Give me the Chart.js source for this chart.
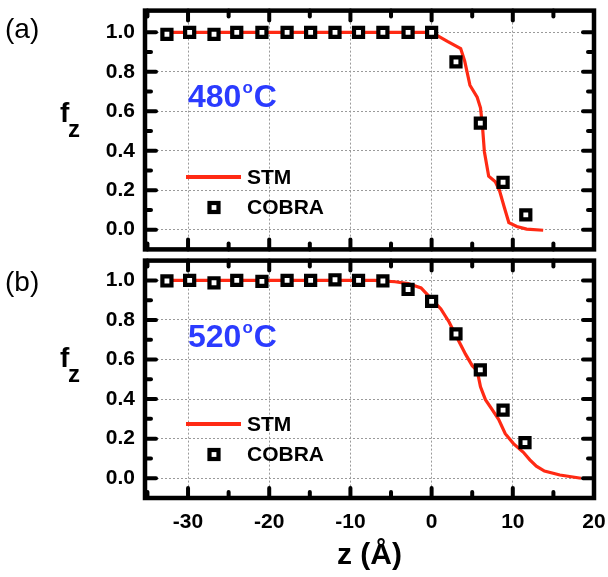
<!DOCTYPE html>
<html>
<head>
<meta charset="utf-8">
<script src="https://cdn.jsdelivr.net/npm/chart.js@4.4.0/dist/chart.umd.min.js"></script>
<style>
  html, body { margin: 0; padding: 0; background: #fff; }
  #wrap { position: relative; width: 608px; height: 577px; }
  #ca { position: absolute; left: 0; top: 0; }
  #cb { position: absolute; left: 0; top: 250px; }
</style>
</head>
<body>
<div id="wrap">
  <canvas id="ca" width="608" height="260"></canvas>
  <canvas id="cb" width="608" height="327"></canvas>
</div>
<script>
// Axis ticks
const xTicks = [-30, -20, -10, 0, 10, 20];
const xMinor = [-35, -25, -15, -5, 5, 15];
const yTicks = [0, 0.2, 0.4, 0.6, 0.8, 1.0];
const yMinor = [0.1, 0.3, 0.5, 0.7, 0.9];

// Panel (a) 480 C
const cobraZa = [-32.6, -29.8, -26.8, -24.0, -20.9, -17.8, -14.9, -11.9, -9.0, -6.0, -2.9, 0, 3.0, 6.0, 8.8, 11.6];
const cobraFa = [0.99, 1.0, 0.99, 1.0, 1.0, 1.0, 1.0, 1.0, 1.0, 1.0, 1.0, 1.0, 0.85, 0.54, 0.24, 0.075];
const stmZa = [-32.6, 0, 1.95, 3.58, 4.07, 4.72, 5.61, 6.02, 6.26, 6.5, 7.03, 7.85, 8.37, 8.94, 9.51, 10.49, 11.7, 13.74];
const stmFa = [1.0, 1.0, 0.954, 0.918, 0.855, 0.732, 0.671, 0.617, 0.526, 0.395, 0.271, 0.243, 0.197, 0.115, 0.036, 0.016, 0.003, -0.003];

// Panel (b) 520 C
const cobraZb = [-32.6, -29.8, -26.8, -24.0, -20.9, -17.8, -14.9, -11.9, -9.0, -6.0, -2.9, 0, 3.0, 6.0, 8.8, 11.5];
const cobraFb = [0.997, 1.0, 0.988, 1.0, 0.995, 1.0, 1.0, 1.003, 1.0, 0.997, 0.954, 0.894, 0.729, 0.548, 0.344, 0.18];
const stmZb = [-32.6, -7.0, -4.5, -2.9, -1.3, 0, 1.14, 2.15, 2.85, 4.19, 5.0, 5.61, 6.02, 6.63, 7.44, 8.25, 9.07, 10.08, 11.3, 12.1, 12.9, 13.9, 15.8, 18.4];
const stmFb = [1.0, 1.0, 0.993, 0.984, 0.962, 0.905, 0.856, 0.79, 0.733, 0.626, 0.569, 0.544, 0.462, 0.397, 0.348, 0.298, 0.225, 0.175, 0.131, 0.093, 0.061, 0.036, 0.016, 0.0];

const fontFamily = "'Liberation Sans', Arial, sans-serif";
const red = '#ff2a14';
const blue = '#2b3bff';

function toPoints(xs, ys) {
  return xs.map((v, i) => ({ x: v, y: ys[i] }));
}

// Frame, inward ticks, legend and labels
const framePlugin = {
  id: 'frame',
  afterDraw(chart, args, opts) {
    const { ctx, chartArea: a, scales: { x, y } } = chart;
    ctx.save();
    ctx.strokeStyle = '#000';
    ctx.lineWidth = 4;
    ctx.lineCap = 'round';
    const tick = (x1, y1, x2, y2) => {
      ctx.beginPath(); ctx.moveTo(x1, y1); ctx.lineTo(x2, y2); ctx.stroke();
    };
    xTicks.forEach(v => {
      const px = x.getPixelForValue(v);
      if (px <= a.left + 2 || px >= a.right - 2) return;
      tick(px, a.bottom, px, a.bottom - 10);
      tick(px, a.top, px, a.top + 10);
    });
    xMinor.forEach(v => {
      const px = x.getPixelForValue(v);
      if (px <= a.left + 2 || px >= a.right - 2) return;
      tick(px, a.bottom, px, a.bottom - 6);
      tick(px, a.top, px, a.top + 6);
    });
    yTicks.forEach(v => {
      const py = y.getPixelForValue(v);
      tick(a.left, py, a.left + 11, py);
      tick(a.right, py, a.right - 11, py);
    });
    yMinor.forEach(v => {
      const py = y.getPixelForValue(v);
      tick(a.left, py, a.left + 6, py);
      tick(a.right, py, a.right - 6, py);
    });
    ctx.lineCap = 'butt';
    ctx.lineWidth = 4.5;
    ctx.strokeRect(a.left, a.top, a.right - a.left, a.bottom - a.top);

    // panel letter
    ctx.fillStyle = '#000';
    ctx.textBaseline = 'middle';
    ctx.textAlign = 'left';
    ctx.font = '28px ' + fontFamily;
    ctx.fillText(opts.letter, 5, opts.letterY);

    // f_z axis label
    ctx.font = 'bold 28px ' + fontFamily;
    ctx.textBaseline = 'alphabetic';
    ctx.fillText('f', 60, opts.fY);
    ctx.font = 'bold 24px ' + fontFamily;
    ctx.fillText('z', 68, opts.fY + 15);

    // temperature
    ctx.fillStyle = blue;
    ctx.font = 'bold 32px ' + fontFamily;
    ctx.fillText(opts.temp, 188, opts.tempY);
    let w = ctx.measureText(opts.temp).width;
    ctx.font = 'bold 17px ' + fontFamily;
    ctx.fillText('o', 188 + w + 1, opts.tempY - 14);
    let w2 = ctx.measureText('o').width;
    ctx.font = 'bold 32px ' + fontFamily;
    ctx.fillText('C', 188 + w + w2 + 2, opts.tempY);

    // legend
    ctx.strokeStyle = red;
    ctx.lineWidth = 4;
    tick(186, opts.legY, 241, opts.legY);
    ctx.strokeStyle = '#000';
    ctx.lineWidth = 4.2;
    ctx.fillStyle = '#fff';
    ctx.fillRect(209.5, opts.legY + 26, 9, 9);
    ctx.strokeRect(209.5, opts.legY + 26, 9, 9);
    ctx.fillStyle = '#000';
    ctx.textBaseline = 'middle';
    ctx.font = 'bold 21px ' + fontFamily;
    ctx.fillText('STM', 247, opts.legY + 1);
    ctx.fillText('COBRA', 247, opts.legY + 31);
    ctx.restore();
  }
};

function noPad(s) {
  s.paddingTop = 0;
  s.paddingBottom = 0;
  s.paddingLeft = 0;
  s.paddingRight = 0;
}

function makeOptions(isBottom, frameOpts, padding, yMax) {
  return {
    responsive: false,
    animation: false,
    layout: { padding: padding },
    plugins: {
      legend: { display: false },
      tooltip: { enabled: false },
      frame: frameOpts
    },
    scales: {
      x: {
        type: 'linear',
        min: -35.3,
        max: 20,
        afterBuildTicks: s => { s.ticks = xTicks.map(v => ({ value: v })); },
        afterFit: s => { s.height = isBottom ? 79 : 0; noPad(s); },
        grid: { color: '#9a9a9a', lineWidth: 1, drawTicks: false },
        border: { display: false, dash: [2, 2] },
        ticks: {
          display: isBottom,
          padding: 12,
          color: '#000',
          font: { family: fontFamily, size: 21, weight: 'bold' },
          maxRotation: 0
        },
        title: {
          display: isBottom,
          text: 'z (Å)',
          color: '#000',
          font: { family: fontFamily, size: 30, weight: 'bold' },
          padding: { top: 0, bottom: 3 }
        }
      },
      y: {
        type: 'linear',
        min: -0.1,
        max: yMax,
        afterBuildTicks: s => { s.ticks = yTicks.map(v => ({ value: v })); },
        afterFit: s => { s.width = 145; noPad(s); },
        grid: { color: '#9a9a9a', lineWidth: 1, drawTicks: false },
        border: { display: false, dash: [2, 2] },
        ticks: {
          padding: 10,
          color: '#000',
          font: { family: fontFamily, size: 21, weight: 'bold' },
          callback: v => v.toFixed(1)
        }
      }
    }
  };
}

function makeData(stmX, stmY, cobX, cobY) {
  return {
    datasets: [
      {
        label: 'STM',
        data: toPoints(stmX, stmY),
        showLine: true,
        borderColor: red,
        borderWidth: 3.2,
        pointRadius: 0,
        tension: 0,
        order: 2
      },
      {
        label: 'COBRA',
        data: toPoints(cobX, cobY),
        showLine: false,
        pointStyle: 'rect',
        pointRadius: 6.4,
        pointBorderWidth: 4.2,
        pointBorderColor: '#000',
        pointBackgroundColor: '#fff',
        order: 1
      }
    ]
  };
}

new Chart(document.getElementById('ca'), {
  type: 'scatter',
  data: makeData(stmZa, stmFa, cobraZa, cobraFa),
  options: makeOptions(false,
    { letter: '(a)', letterY: 30, fY: 122, temp: '480', tempY: 107, legY: 177 },
    { left: 0, right: 14, top: 9, bottom: 5.5 }, 1.11),
  plugins: [framePlugin]
});

new Chart(document.getElementById('cb'), {
  type: 'scatter',
  data: makeData(stmZb, stmFb, cobraZb, cobraFb),
  options: makeOptions(true,
    { letter: '(b)', letterY: 33, fY: 117, temp: '520', tempY: 97, legY: 174 },
    { left: 0, right: 14, top: 4.5, bottom: 0 }, 1.1),
  plugins: [framePlugin]
});
</script>
</body>
</html>
